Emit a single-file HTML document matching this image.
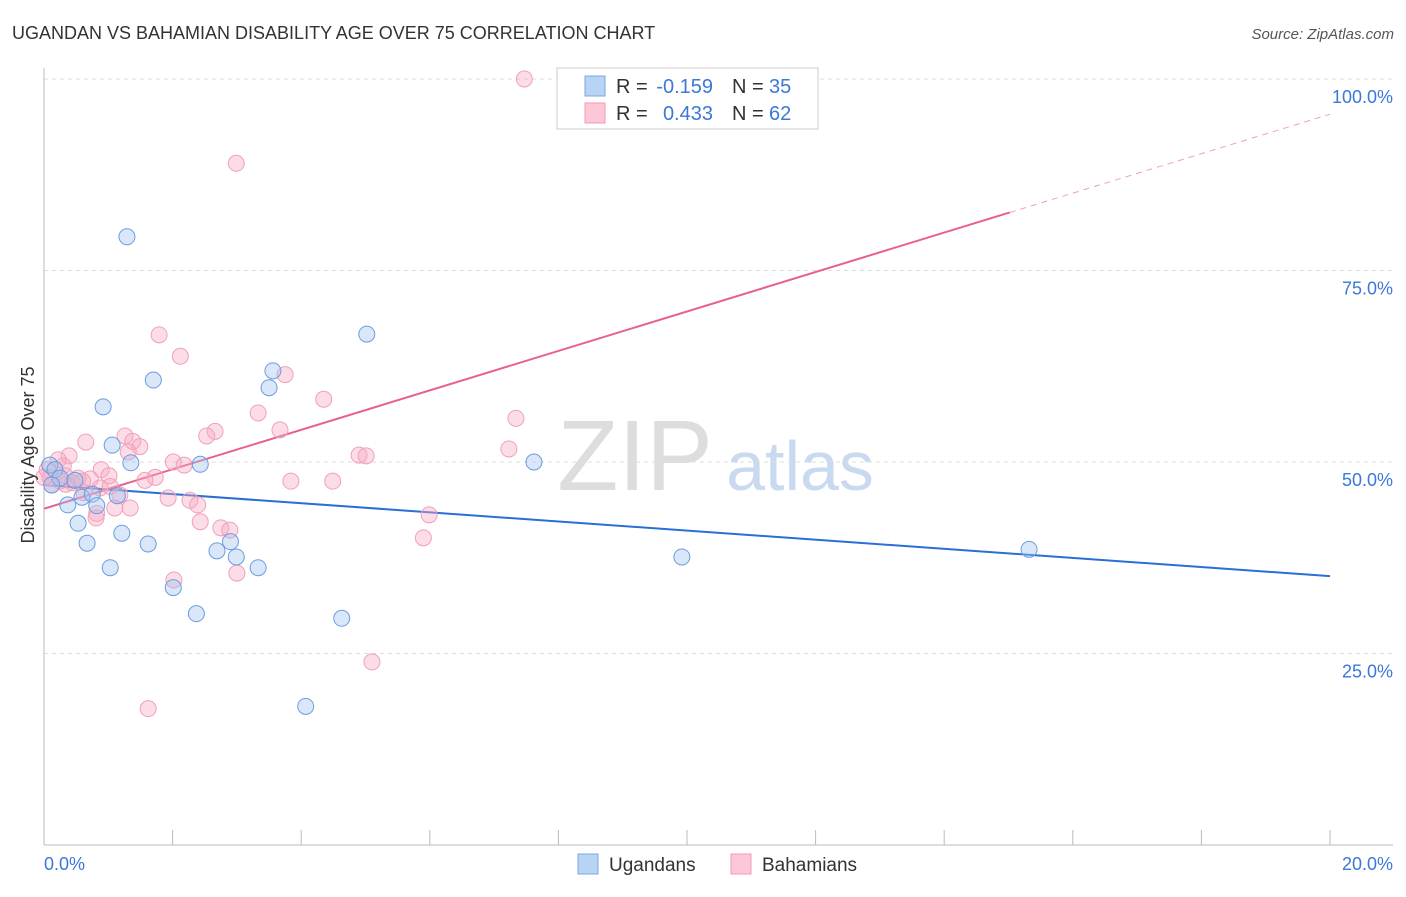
<!DOCTYPE html>
<html><head><meta charset="utf-8"><style>
body{margin:0;background:#fff;font-family:"Liberation Sans",sans-serif}
svg text{font-family:"Liberation Sans",sans-serif}
</style></head><body>
<svg width="1406" height="892" xmlns="http://www.w3.org/2000/svg">
<text x="12" y="39" font-size="18" fill="#333">UGANDAN VS BAHAMIAN DISABILITY AGE OVER 75 CORRELATION CHART</text>
<text x="1394" y="39" font-size="15" fill="#555" font-style="italic" text-anchor="end">Source: ZipAtlas.com</text>
<text x="635" y="490" font-size="100" fill="#ddd" font-family="Liberation Serif" text-anchor="middle">ZIP</text>
<text x="800" y="490" font-size="70" fill="#c9d9f0" text-anchor="middle">atlas</text>
<g id="grid"></g><g id="axes"></g><g id="trend"></g><g id="pts"></g>
<text x="34" y="455" font-size="18" fill="#333" text-anchor="middle" transform="rotate(-90 34 455)">Disability Age Over 75</text>
<g>
<rect x="557" y="68" width="261" height="61" fill="#fff" stroke="#ccc"/>
<rect x="585" y="76" width="20" height="20" fill="#b9d3f5" stroke="#7aa7e6"/>
<rect x="585" y="103" width="20" height="20" fill="#fcc8d8" stroke="#f09ab6"/>
<text x="616" y="93" font-size="20" fill="#333">R =</text>
<text x="713" y="93" font-size="20" fill="#3b78d8" text-anchor="end">-0.159</text>
<text x="732" y="93" font-size="20" fill="#333">N =</text>
<text x="769" y="93" font-size="20" fill="#3b78d8">35</text>
<text x="616" y="120" font-size="20" fill="#333">R =</text>
<text x="713" y="120" font-size="20" fill="#3b78d8" text-anchor="end">0.433</text>
<text x="732" y="120" font-size="20" fill="#333">N =</text>
<text x="769" y="120" font-size="20" fill="#3b78d8">62</text>
</g>
<g>
<rect x="578" y="854" width="20" height="20" fill="#b9d3f5" stroke="#7aa7e6"/>
<text x="609" y="871" font-size="19" fill="#333">Ugandans</text>
<rect x="731" y="854" width="20" height="20" fill="#fcc8d8" stroke="#f09ab6"/>
<text x="762" y="871" font-size="19" fill="#333">Bahamians</text>
</g>
</svg>
<script>
const yTicks=[25,50,75,100];
const yTickLabels=["25.0%","50.0%","75.0%","100.0%"];
const xTicks=[0,2,4,6,8,10,12,14,16,18,20];
const blueX=[1.29,1.70,0.92,1.06,1.35,2.43,3.56,3.50,5.02,7.62,9.92,15.32,0.09,0.17,0.25,0.48,0.37,0.59,0.75,0.82,1.14,0.53,0.67,1.21,1.62,1.03,2.01,2.37,2.69,2.90,2.99,3.33,4.63,4.07,0.12];
const blueY=[79.4,60.7,57.2,52.2,49.9,49.7,61.9,59.7,66.7,50.0,37.6,38.6,49.6,49.0,47.9,47.6,44.4,45.4,45.8,44.3,45.6,42.0,39.4,40.7,39.3,36.2,33.6,30.2,38.4,39.6,37.6,36.2,29.6,18.1,47.0];
const pinkX=[7.47,10.79,2.99,1.79,2.12,3.75,4.35,7.34,3.33,3.67,2.66,2.53,1.26,1.38,1.49,0.65,1.31,0.39,4.90,5.01,7.23,2.01,2.18,0.30,0.89,1.01,0.72,1.73,1.57,3.84,4.49,0.25,0.09,0.87,0.62,1.18,1.93,2.27,2.39,1.10,1.34,0.82,0.81,2.43,2.75,2.89,5.99,5.90,2.02,3.00,5.10,1.62,0.05,0.33,0.44,0.53,0.12,0.34,0.22,0.00,1.03,0.6];
const pinkY=[100,100,89.0,66.6,63.8,61.4,58.2,55.7,56.4,54.2,54.0,53.4,53.4,52.7,52.0,52.6,51.3,50.8,50.9,50.8,51.7,50.0,49.6,49.5,49.0,48.2,47.8,48.0,47.6,47.5,47.5,47.5,48.0,46.6,46.0,45.7,45.3,45.0,44.4,44.0,44.0,43.3,42.7,42.2,41.4,41.1,43.1,40.1,34.6,35.5,23.9,17.8,49.0,48.2,47.3,47.9,47.0,47.1,50.3,48.0,46.8,47.5];
const blueTrend=[47.0,35.1];
const pinkTrend=[43.9,95.4];
const pinkSolidEnd=15.02;
const NS="http://www.w3.org/2000/svg";
const sx=v=>44+v*64.3, sy=v=>845-v*7.66;
function mk(t,a,p){const e=document.createElementNS(NS,t);for(const k in a)e.setAttribute(k,a[k]);document.getElementById(p).appendChild(e);return e;}
yTicks.forEach((t,i)=>{
 const l=mk('line',{x1:44,x2:1393,y1:sy(t),y2:sy(t),stroke:'#ddd','stroke-dasharray':'4,4'},'grid');
 
 
 const tx=mk('text',{x:1393,y:sy(t)+24,'font-size':18,fill:'#3b78d8','text-anchor':'end'},'grid');
 tx.textContent=yTickLabels[i];
 
 
});
let a=mk('line',{x1:44,x2:44,y1:68,y2:845,stroke:'#bbb'},'axes');


a=mk('line',{x1:44,x2:1393,y1:845,y2:845,stroke:'#bbb'},'axes');


xTicks.forEach(t=>{
 const l=mk('line',{x1:sx(t),x2:sx(t),y1:830,y2:845,stroke:'#bbb'},'axes');
 
 
});
[[0,"0.0%","start",44],[20,"20.0%","end",1393]].forEach(d=>{
 const tx=mk('text',{x:d[3],y:870,'font-size':18,fill:'#3b78d8','text-anchor':d[2]},'axes');
 tx.textContent=d[1];
 
 
});
let tl=mk('line',{x1:sx(0),y1:sy(blueTrend[0]),x2:sx(20),y2:sy(blueTrend[1]),stroke:'#2a6fd6','stroke-width':2},'trend');


const pe=pinkTrend[0]+(pinkTrend[1]-pinkTrend[0])*pinkSolidEnd/20;
tl=mk('line',{x1:sx(0),y1:sy(pinkTrend[0]),x2:sx(pinkSolidEnd),y2:sy(pe),stroke:'#e8608d','stroke-width':2},'trend');


tl=mk('line',{x1:sx(pinkSolidEnd),y1:sy(pe),x2:sx(20),y2:sy(pinkTrend[1]),stroke:'#f0a0b8','stroke-width':1,'stroke-dasharray':'6,5'},'trend');


pinkX.forEach((x,i)=>{
 const c=mk('circle',{cx:sx(x),cy:sy(pinkY[i]),r:8,fill:'rgba(248,170,195,0.4)',stroke:'#f0a0b8','stroke-width':1},'pts');
 
 
});
blueX.forEach((x,i)=>{
 const c=mk('circle',{cx:sx(x),cy:sy(blueY[i]),r:8,fill:'rgba(160,195,240,0.4)',stroke:'#6b9de0','stroke-width':1},'pts');
 
 
});
</script>
</body></html>
